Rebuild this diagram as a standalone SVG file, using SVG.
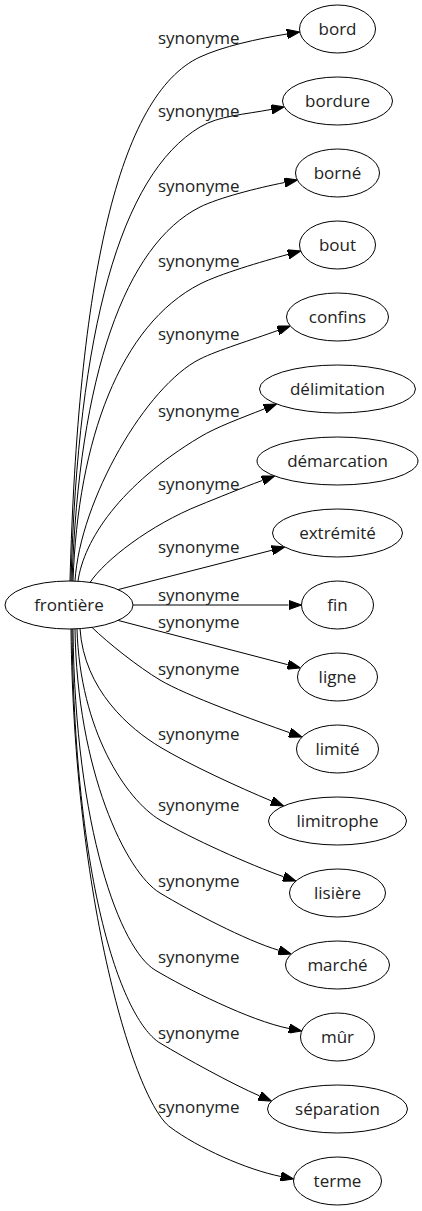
<svg xmlns="http://www.w3.org/2000/svg" width="422" height="1211" viewBox="0 0 422 1211">
<style>
.n ellipse{fill:#fff;stroke:#000;stroke-width:1}
.n text{font-family:"Open Sans","DejaVu Sans",sans-serif;font-size:17px;fill:#222;text-anchor:middle}
.e path{fill:none;stroke:#000;stroke-width:1;marker-end:url(#ah)}
.l text{font-family:"Open Sans","DejaVu Sans",sans-serif;font-size:17px;fill:#222}
</style>
<defs>
<marker id="ah" markerWidth="13" markerHeight="9.4" viewBox="0 0 13 9.4" refX="0" refY="4.7" orient="auto" markerUnits="userSpaceOnUse">
<path d="M0,0 L13,4.7 L0,9.4 z" fill="#000" stroke="#000" stroke-width="1"/>
</marker>
</defs>
<rect width="422" height="1211" fill="#fff"/>
<g id="edges" class="e">
<path d="M70,581 C78,282 118,95 200,57 C222.7,46.5 257.4,38.8 287,34"/>
<path d="M71,581 C78,331 120,175 200,127 C218.9,115.7 243.9,114.6 271.4,109.4"/>
<path d="M72,581 C79,375 125,245 200,207 C218.9,197.7 257.1,188 284.6,182.5"/>
<path d="M73,581 C78,440 120,325 200,284 C219.6,274 261.1,261.7 288.1,254.4"/>
<path d="M75,581 C80,500 146.4,385.8 200,359 C217.9,350.1 251.7,339.9 278,330.4"/>
<path d="M78,581 C84,540 120,485 200,437 C217.1,426.7 241.3,418.1 264.5,408.8"/>
<path d="M90,582.5 C105,560 150,525 200,505 C216.7,498.3 241.8,487.9 262.5,480.4"/>
<path d="M118,589.6 L272.1,550.2"/>
<path d="M133,605 L288.5,605"/>
<path d="M118,620.4 L287.8,664.7"/>
<path d="M92,627.4 C108,643 138.6,667.2 160,680 C185.7,695.4 256.7,721.1 289.7,732.7"/>
<path d="M80,628.6 C84,690 130,729 160,747 C190,765 239.3,787.5 271.6,801"/>
<path d="M77,628.8 C80,730 125.7,799.4 160,820 C190,838 250.6,865.1 283.6,876.7"/>
<path d="M75,629 C77,770 125.7,872.4 160,893 C190,911 245.3,940.3 278.8,950.3"/>
<path d="M73,629 C75,830 120.7,949.4 155,970 C185,988 249.8,1020.7 289,1028.5"/>
<path d="M72,629 C75,900 125.7,1022.4 160,1043 C185.7,1058.4 232,1084 259.6,1095.9"/>
<path d="M71,629 C74,900 134,1100 170,1127 C198,1148 246.6,1169.6 280.9,1176.5"/>
</g>
<g id="labels" class="l">
<text x="158" y="44">synonyme</text>
<text x="158" y="117">synonyme</text>
<text x="158" y="192">synonyme</text>
<text x="158" y="267">synonyme</text>
<text x="158" y="340">synonyme</text>
<text x="158" y="417">synonyme</text>
<text x="158" y="490">synonyme</text>
<text x="158" y="553">synonyme</text>
<text x="158" y="601">synonyme</text>
<text x="158" y="628">synonyme</text>
<text x="158" y="675">synonyme</text>
<text x="158" y="740">synonyme</text>
<text x="158" y="811">synonyme</text>
<text x="158" y="887">synonyme</text>
<text x="158" y="963">synonyme</text>
<text x="158" y="1039">synonyme</text>
<text x="158" y="1113">synonyme</text>
</g>
<g id="node-frontiere" class="n"><ellipse cx="69" cy="605" rx="64" ry="24"/><text x="69" y="611">frontière</text></g>
<g id="node-bord" class="n"><ellipse cx="337.5" cy="29" rx="38" ry="24"/><text x="337.5" y="35">bord</text></g>
<g id="node-bordure" class="n"><ellipse cx="337.5" cy="101" rx="55" ry="24"/><text x="337.5" y="107">bordure</text></g>
<g id="node-borne" class="n"><ellipse cx="337.5" cy="173" rx="42" ry="24"/><text x="337.5" y="179">borné</text></g>
<g id="node-bout" class="n"><ellipse cx="337.5" cy="245" rx="38" ry="24"/><text x="337.5" y="251">bout</text></g>
<g id="node-confins" class="n"><ellipse cx="337.5" cy="317" rx="51" ry="24"/><text x="337.5" y="323">confins</text></g>
<g id="node-delimitation" class="n"><ellipse cx="337.5" cy="389" rx="78" ry="24"/><text x="337.5" y="395">délimitation</text></g>
<g id="node-demarcation" class="n"><ellipse cx="337.5" cy="461" rx="80.5" ry="24"/><text x="337.5" y="467">démarcation</text></g>
<g id="node-extremite" class="n"><ellipse cx="337.5" cy="533" rx="65" ry="24"/><text x="337.5" y="539">extrémité</text></g>
<g id="node-fin" class="n"><ellipse cx="337.5" cy="605" rx="36" ry="24"/><text x="337.5" y="611">fin</text></g>
<g id="node-ligne" class="n"><ellipse cx="337.5" cy="677" rx="40" ry="24"/><text x="337.5" y="683">ligne</text></g>
<g id="node-limite" class="n"><ellipse cx="337.5" cy="749" rx="41" ry="24"/><text x="337.5" y="755">limité</text></g>
<g id="node-limitrophe" class="n"><ellipse cx="337.5" cy="821" rx="69" ry="24"/><text x="337.5" y="827">limitrophe</text></g>
<g id="node-lisiere" class="n"><ellipse cx="337.5" cy="893" rx="48" ry="24"/><text x="337.5" y="899">lisière</text></g>
<g id="node-marche" class="n"><ellipse cx="337.5" cy="965" rx="52" ry="24"/><text x="337.5" y="971">marché</text></g>
<g id="node-mur" class="n"><ellipse cx="337.5" cy="1037" rx="37" ry="24"/><text x="337.5" y="1043">mûr</text></g>
<g id="node-separation" class="n"><ellipse cx="337.5" cy="1109" rx="70" ry="24"/><text x="337.5" y="1115">séparation</text></g>
<g id="node-terme" class="n"><ellipse cx="337.5" cy="1181" rx="44" ry="24"/><text x="337.5" y="1187">terme</text></g>
</svg>
